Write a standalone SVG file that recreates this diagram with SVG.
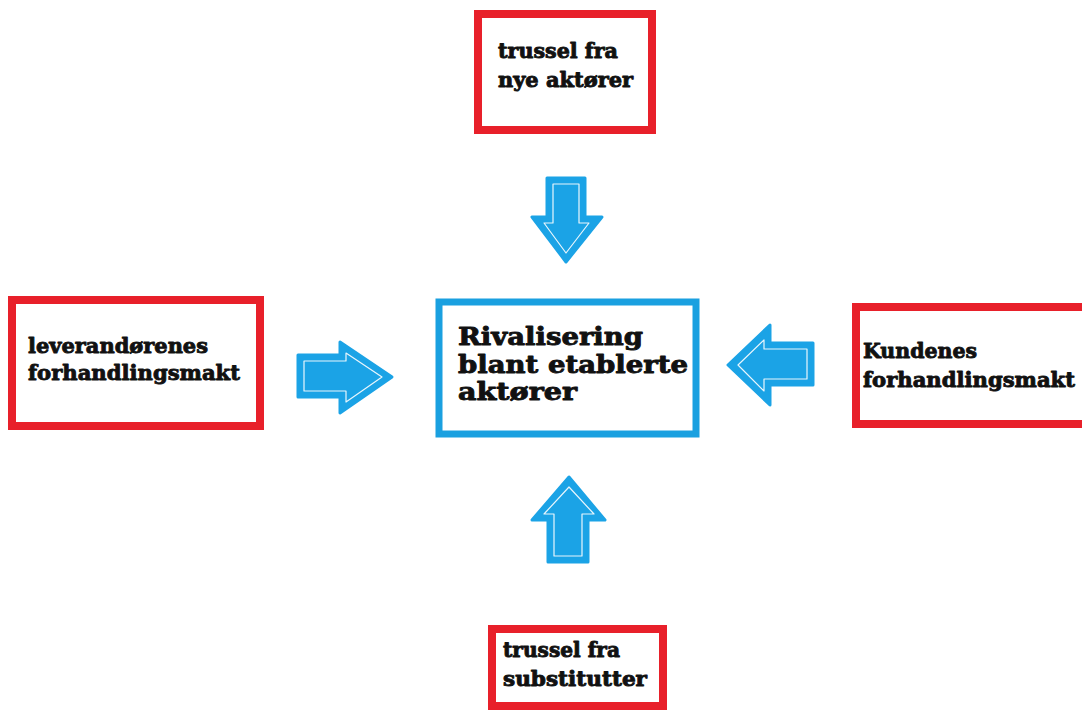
<svg xmlns="http://www.w3.org/2000/svg" width="1082" height="711" viewBox="0 0 1082 711">
<style>
.red{fill:#fff;stroke:#E8202A;stroke-width:8}
.blue{fill:#fff;stroke:#1AA0E0;stroke-width:7}
.t{font-family:"DejaVu Serif","Liberation Serif",serif;font-weight:bold;fill:#111;stroke:#111;stroke-width:0.9;stroke-linejoin:round}
.arr{fill:#1BA3E6;stroke:#1BA3E6;stroke-width:3;stroke-linejoin:round}
.inn{fill:none;stroke:#fff;stroke-width:1.2;stroke-linejoin:round;opacity:0.9}
</style>
<rect width="1082" height="711" fill="#fff"/>
<g id="nye">
<rect class="red" x="478" y="14" width="174" height="116"/>
<text class="t" font-size="20"><tspan x="498" y="58" textLength="120" lengthAdjust="spacingAndGlyphs">trussel fra</tspan><tspan x="498" y="87" textLength="135" lengthAdjust="spacingAndGlyphs">nye aktører</tspan></text>
</g>
<g id="leverandor">
<rect class="red" x="12" y="300" width="248" height="126"/>
<text class="t" font-size="21"><tspan x="28" y="353" textLength="180" lengthAdjust="spacingAndGlyphs">leverandørenes</tspan><tspan x="28" y="380" textLength="212" lengthAdjust="spacingAndGlyphs">forhandlingsmakt</tspan></text>
</g>
<g id="kunde">
<rect class="red" x="856" y="307" width="240" height="117"/>
<text class="t" font-size="21"><tspan x="863" y="358" textLength="114" lengthAdjust="spacingAndGlyphs">Kundenes</tspan><tspan x="863" y="387" textLength="212" lengthAdjust="spacingAndGlyphs">forhandlingsmakt</tspan></text>
</g>
<g id="rival">
<rect class="blue" x="439" y="302" width="257" height="132"/>
<text class="t" font-size="24"><tspan x="458" y="345" textLength="185" lengthAdjust="spacingAndGlyphs">Rivalisering</tspan><tspan x="458" y="373" textLength="230" lengthAdjust="spacingAndGlyphs">blant etablerte</tspan><tspan x="458" y="400" textLength="119" lengthAdjust="spacingAndGlyphs">aktører</tspan></text>
</g>
<g id="substitutter">
<rect class="red" x="492" y="629" width="171" height="77"/>
<text class="t" font-size="20"><tspan x="503" y="657" textLength="117" lengthAdjust="spacingAndGlyphs">trussel fra</tspan><tspan x="503" y="686" textLength="144" lengthAdjust="spacingAndGlyphs">substitutter</tspan></text>
</g>
<g id="connectors">
<path class="arr" d="M547,178 H585 V217 H602 L566,262 L532,217 H547 Z"/>
<path class="inn" d="M553,184 H579 V223 H589 L566,253 L544,223 H553 Z"/>
<path class="arr" d="M298,355 H340 V342 L392,377 L340,413 V397 H298 Z"/>
<path class="inn" d="M304,361 H346 V353 L382,377 L346,402 V391 H304 Z"/>
<path class="arr" d="M728,365 L770,325 V343 H813 V385 H770 V405 Z"/>
<path class="inn" d="M738,365 L764,340 V349 H807 V379 H764 V391 Z"/>
<path class="arr" d="M569,477 L605,520 H588 V562 H548 V520 H532 Z"/>
<path class="inn" d="M569,487 L594,514 H582 V556 H554 V514 H544 Z"/>
</g>
</svg>
